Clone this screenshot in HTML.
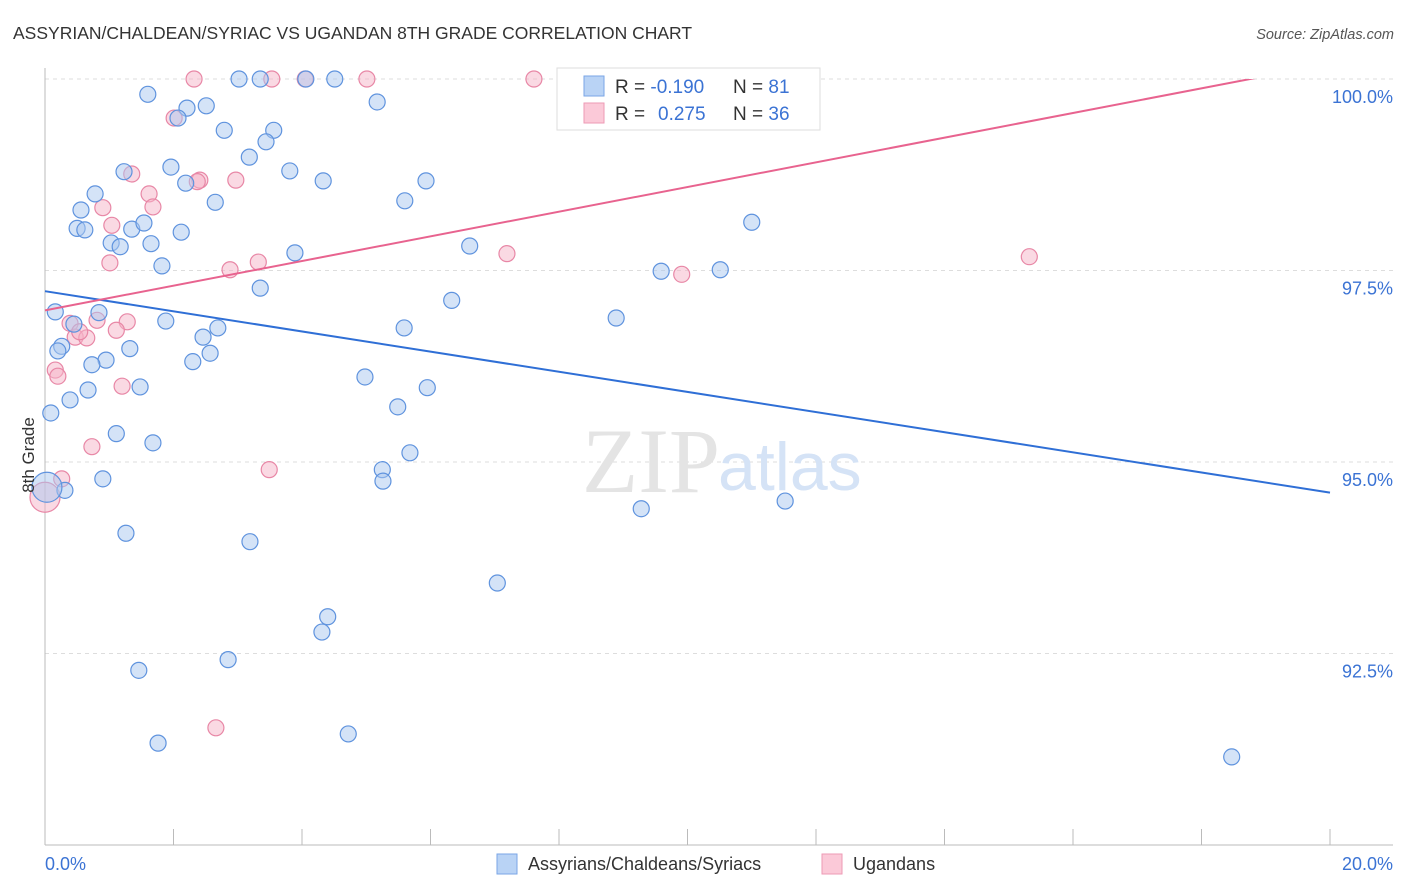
<!DOCTYPE html>
<html><head><meta charset="utf-8"><style>
body{margin:0;background:#fff;font-family:"Liberation Sans",sans-serif;}
svg{display:block}
</style></head><body>
<svg width="1406" height="892" xmlns="http://www.w3.org/2000/svg">
<text x="13" y="39" font-size="17.5" fill="#333">ASSYRIAN/CHALDEAN/SYRIAC VS UGANDAN 8TH GRADE CORRELATION CHART</text>
<text x="1394" y="39" font-size="14.5" fill="#555" text-anchor="end" font-style="italic">Source: ZipAtlas.com</text>
<g id="grid"></g>
<g id="axes"></g>
<text x="720" y="492" font-size="92" fill="#e4e4e4" text-anchor="end" font-family="Liberation Serif">ZIP</text>
<text x="718" y="490" font-size="68" fill="#d5e3f6">atlas</text>
<g id="pts"></g>
<g id="lines"></g>
<text transform="translate(34,455) rotate(-90)" font-size="17" fill="#333" text-anchor="middle">8th Grade</text>
<text x="45" y="870" font-size="18" fill="#3b73d4">0.0%</text>
<text x="1393" y="870" font-size="18" fill="#3b73d4" text-anchor="end">20.0%</text>
<g>
<rect x="557" y="68" width="263" height="62" fill="#fff" stroke="#ddd"/>
<rect x="584" y="76" width="20" height="20" fill="#b9d3f5" stroke="#7aa6e6"/>
<rect x="584" y="103" width="20" height="20" fill="#fbc9d8" stroke="#ee9ab5"/>
<text x="615" y="93" font-size="19" fill="#333">R = <tspan fill="#3b73d4">-0.190</tspan><tspan x="733">N = </tspan><tspan fill="#3b73d4">81</tspan></text>
<text x="615" y="120" font-size="19" fill="#333">R = <tspan fill="#3b73d4" x="658">0.275</tspan><tspan x="733">N = </tspan><tspan fill="#3b73d4">36</tspan></text>
</g>
<g>
<rect x="497" y="854" width="20" height="20" fill="#b9d3f5" stroke="#7aa6e6"/>
<text x="528" y="870" font-size="18" fill="#333">Assyrians/Chaldeans/Syriacs</text>
<rect x="822" y="854" width="20" height="20" fill="#fbc9d8" stroke="#ee9ab5"/>
<text x="853" y="870" font-size="18" fill="#333">Ugandans</text>
</g>
</svg>
<script>
const yTicks=[100,97.5,95,92.5];
const yTickLabels=["100.0%","97.5%","95.0%","92.5%"];
const xTicks=[0,2,4,6,8,10,12,14,16,18,20];
const blueX=[1.60,3.02,3.35,4.06,4.51,5.17,2.21,2.51,2.07,2.79,3.56,3.44,3.18,1.96,1.23,3.81,2.19,4.33,5.93,0.78,2.65,5.60,0.56,0.50,0.62,1.35,1.54,2.12,1.03,1.17,1.65,3.89,6.61,11.00,1.82,9.59,10.51,3.35,6.33,0.16,0.84,1.88,0.45,2.69,5.59,8.89,2.46,0.26,0.20,1.32,2.57,0.95,0.73,2.30,4.98,1.48,0.67,5.95,0.39,0.09,5.49,1.11,1.68,5.68,5.25,5.26,0.90,0.31,0.03,11.52,9.28,1.26,3.19,7.04,4.40,4.31,2.85,1.46,4.72,1.76,18.47];
const blueY=[99.80,100,100,100,100,99.70,99.62,99.65,99.49,99.33,99.33,99.18,98.98,98.85,98.79,98.80,98.64,98.67,98.67,98.50,98.39,98.41,98.29,98.05,98.03,98.04,98.12,98.00,97.86,97.81,97.85,97.73,97.82,98.13,97.56,97.49,97.51,97.27,97.11,96.96,96.95,96.84,96.80,96.75,96.75,96.88,96.63,96.51,96.45,96.48,96.42,96.33,96.27,96.31,96.11,95.98,95.94,95.97,95.81,95.64,95.72,95.37,95.25,95.12,94.90,94.75,94.78,94.63,94.67,94.49,94.39,94.07,93.96,93.42,92.98,92.78,92.42,92.28,91.45,91.33,91.15];
const pinkX=[2.32,3.53,4.05,5.01,7.61,2.01,1.35,2.41,2.37,2.97,1.62,1.68,0.90,1.04,1.01,2.88,3.32,7.19,9.91,15.32,0.39,0.81,1.28,0.47,0.65,1.11,0.16,0.20,1.20,0.73,3.49,0.26,0.00,2.66,0.54];
const pinkY=[100,100,100,100,100,99.49,98.76,98.68,98.66,98.68,98.50,98.33,98.32,98.09,97.60,97.51,97.61,97.72,97.45,97.68,96.81,96.85,96.83,96.63,96.62,96.72,96.20,96.12,95.99,95.20,94.90,94.78,94.54,91.53,96.70];
const blueTrend=[97.23,94.60];
const pinkTrend=[96.98,100.2];
const X=v=>45+v*64.25, Y=v=>79+(100-v)*76.6;
const NS="http://www.w3.org/2000/svg";
function mk(t,a,p){const e=document.createElementNS(NS,t);for(const k in a)e.setAttribute(k,a[k]);p.appendChild(e);return e;}
const grid=document.getElementById('grid'),axes=document.getElementById('axes'),pts=document.getElementById('pts'),lines=document.getElementById('lines');
yTicks.forEach((v,i)=>{
 const l=mk('line',{x1:45,x2:1393,y1:Y(v),y2:Y(v),stroke:'#ddd','stroke-dasharray':'4,4'},grid);
 
 
 const t=mk('text',{x:1393,y:Y(v)+24,'font-size':18,fill:'#3b73d4','text-anchor':'end'},grid);
 t.textContent=yTickLabels[i];
 
 
});
const ax=mk('line',{x1:45,x2:45,y1:68,y2:845,stroke:'#bbb'},axes);


const bx=mk('line',{x1:45,x2:1393,y1:845,y2:845,stroke:'#bbb'},axes);


xTicks.forEach(v=>{
 const t=mk('line',{x1:X(v),x2:X(v),y1:829,y2:845,stroke:'#bbb'},axes);
 
 
});
function dots(xs,ys,fill,stroke,name){
 xs.forEach((x,i)=>{
  const big=(x<0.05&&ys[i]<94.7);
  const c=mk('circle',{cx:X(x),cy:Y(ys[i]),r:big?15:8,fill:fill,'fill-opacity':0.5,stroke:stroke,'stroke-width':1.2},pts);
  
  
 });
}
dots(pinkX,pinkY,'#f6b3c8','#e887a6','point-ugandans');
dots(blueX,blueY,'#a9c8f0','#5f93de','point-assyrians');
const bl=mk('line',{x1:X(0),y1:Y(blueTrend[0]),x2:X(20),y2:Y(blueTrend[1]),stroke:'#2f6fd6','stroke-width':2},lines);


const pl=mk('line',{x1:X(0),y1:Y(pinkTrend[0]),x2:X(20),y2:Y(pinkTrend[1]),stroke:'#e8638f','stroke-width':2},lines);


const cp=mk('clipPath',{id:'cl'},document.querySelector('svg'));
mk('rect',{x:0,y:79,width:1406,height:800},cp);
lines.setAttribute('clip-path','url(#cl)');
</script>
</body></html>
